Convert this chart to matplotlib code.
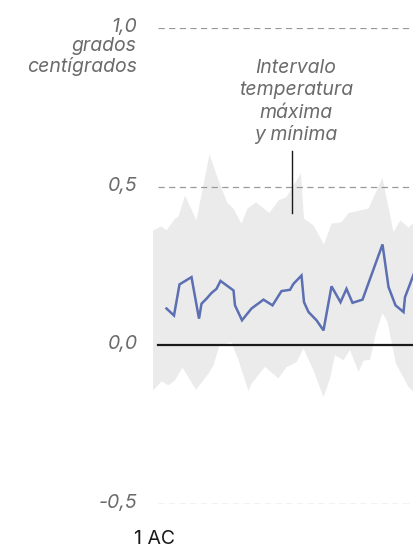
import matplotlib.pyplot as plt
import numpy as np

plt.rcParams['font.family'] = ['Inter', 'DejaVu Sans']

# media de temperatura (anomalía en grados)
anios_media = [28, 43, 54, 78, 93, 98, 108, 118, 128, 136, 162, 165, 179, 198,
               222, 240, 258, 275, 282, 298, 303, 312, 328, 342, 358, 376, 388,
               400, 420, 460, 472, 486, 502, 505, 514, 523]
media = [0.116, 0.094, 0.192, 0.215, 0.084, 0.131, 0.147, 0.165, 0.178, 0.203,
         0.173, 0.126, 0.079, 0.116, 0.144, 0.126, 0.171, 0.175, 0.194, 0.220,
         0.136, 0.105, 0.079, 0.047, 0.186, 0.136, 0.178, 0.134, 0.144, 0.318,
         0.184, 0.126, 0.105, 0.152, 0.189, 0.227]

# intervalo máximo
anios_max = [1, 18, 28, 45, 52, 65, 88, 114, 132, 150, 162, 178, 190, 207, 234,
             252, 268, 297, 303, 322, 343, 358, 378, 392, 432, 460, 482, 496,
             512, 523]
maxima = [0.362, 0.375, 0.362, 0.399, 0.406, 0.472, 0.394, 0.602, 0.520, 0.448,
          0.431, 0.383, 0.431, 0.451, 0.417, 0.457, 0.467, 0.543, 0.399, 0.378,
          0.318, 0.383, 0.388, 0.417, 0.431, 0.528, 0.357, 0.394, 0.371, 0.388]

# intervalo mínimo
anios_min = [1, 8, 18, 32, 45, 60, 87, 112, 122, 134, 158, 172, 192, 198, 225,
             252, 268, 288, 302, 322, 342, 355, 365, 382, 395, 412, 422, 435,
             447, 460, 470, 487, 512, 523]
minima = [-0.142, -0.131, -0.113, -0.126, -0.110, -0.070, -0.140, -0.089,
          -0.063, 0.000, 0.010, -0.047, -0.144, -0.121, -0.068, -0.104, -0.069,
          -0.053, -0.010, -0.079, -0.163, -0.105, -0.031, -0.047, -0.014,
          -0.084, -0.049, -0.045, 0.039, 0.102, 0.073, -0.058, -0.131, -0.147]

ticks = [1.0, 0.5, 0.0, -0.5]
tick_labels = ['1,0', '0,5', '0,0', '-0,5']
unidad = ['grados', 'centígrados']
nota = ['Intervalo', 'temperatura', 'máxima', 'y mínima']

W, H = 414, 547
fig = plt.figure(figsize=(W / 100, H / 100), dpi=100)
left, bottom, top = 153, 504, 28
ax = fig.add_axes([left / W, (H - bottom) / H, 1 - left / W, (bottom - top) / H])
ax.set_xlim(1, 523)
ax.set_ylim(-0.5, 1.0)
ax.axis('off')


def px(x, y):
    # posición en píxeles (origen arriba a la izquierda) -> fracción de figura
    return x / W, 1 - y / H


# banda gris entre máximo y mínimo
poly_x = np.concatenate([anios_max, anios_min[::-1]])
poly_y = np.concatenate([maxima, minima[::-1]])
ax.fill(poly_x, poly_y, color='#ebebeb', lw=0, zorder=1)

grid_start = (158 - left) / (W - left)
for t in ticks:
    if t == 0:
        ax.axhline(t, xmin=grid_start, color='#1a1a1a', lw=1.6, zorder=3)
    else:
        ax.axhline(t, xmin=grid_start, color='#999999', lw=0.9,
                   dashes=(5, 3.5), zorder=2)

ax.plot(anios_media, media, color='#5b6fb2', lw=1.8, zorder=4,
        solid_joinstyle='miter')

grey = '#6b6b6b'
fs = 14
to_px = lambda v: top + (1.0 - v) * (bottom - top) / 1.5
for t, lab in zip(ticks, tick_labels):
    fig.text(*px(137, to_px(t) + 4), lab, ha='right', va='baseline',
             fontsize=fs, style='italic', color=grey)
for i, linea in enumerate(unidad):
    fig.text(*px(137, 51 + 21 * i), linea, ha='right', va='baseline',
             fontsize=fs, style='italic', color=grey)

for i, linea in enumerate(nota):
    fig.text(*px(296, 73 + 22.3 * i), linea, ha='center', va='baseline',
             fontsize=fs, style='italic', color=grey)
ax.plot([292 / W, 292 / W], [1 - 151 / H, 1 - 213 / H], color='#1a1a1a',
        lw=1.0, transform=fig.transFigure, zorder=5)

fig.text(*px(155, 544), '1 AC', ha='center', va='baseline', fontsize=fs,
         color='#1a1a1a')

fig.savefig('out.png', dpi=100)
